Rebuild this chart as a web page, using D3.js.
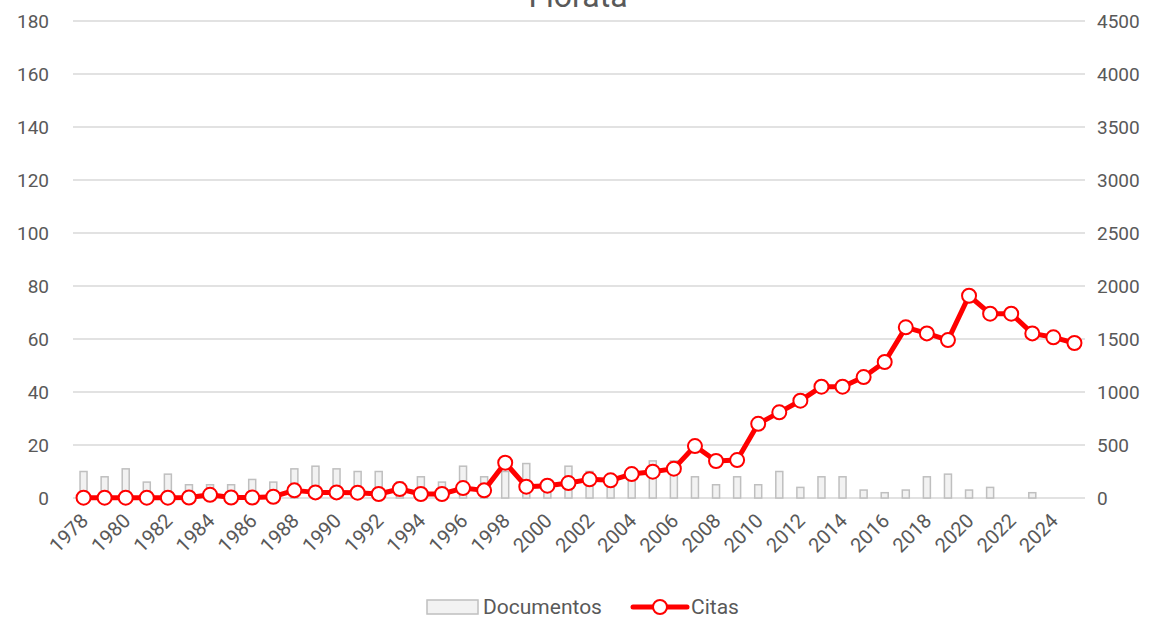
<!DOCTYPE html>
<html>
<head>
<meta charset="utf-8">
<script src="https://cdn.jsdelivr.net/npm/d3@7"></script>
<style>
  body { margin: 0; background: #fff; }
  text { font-family: Roboto, "Open Sans", sans-serif; fill: #595959; }
</style>
</head>
<body>
<svg id="chart" width="1157" height="617"></svg>
<script>
// data
var years = d3.range(1978, 2026);
var documentos = [10, 8, 11, 6, 9, 5, 5, 5, 7, 6, 11, 12, 11, 10, 10, 6, 8, 6, 12, 8,
                  10, 13, 5, 12, 10, 7, 9, 14, 14, 8, 5, 8, 5, 10, 4, 8, 8, 3, 2, 3,
                  8, 9, 3, 4, 0, 2, 0, 0];
var citas = [3, 3, 3, 3, 3, 5, 30, 5, 5, 12, 72, 53, 53, 50, 38, 85, 38, 38, 94, 72,
             333, 107, 116, 141, 176, 167, 226, 248, 277, 490, 349, 358, 700, 808, 918, 1050, 1050, 1141, 1283, 1610,
             1553, 1490, 1908, 1739, 1739, 1553, 1516, 1462];
var leftTicks = [0, 20, 40, 60, 80, 100, 120, 140, 160, 180];
var rightTicks = [0, 500, 1000, 1500, 2000, 2500, 3000, 3500, 4000, 4500];

var svg = d3.select("#chart"),
    plotLeft = 73, plotRight = 1085, plotTop = 21, plotBottom = 498;

var x = d3.scaleBand()
    .domain(years)
    .range([plotLeft, plotRight]);

var yL = d3.scaleLinear().domain([0, 180]).range([plotBottom, plotTop]);
var yR = d3.scaleLinear().domain([0, 4500]).range([plotBottom, plotTop]);

function cx(yr) { return x(yr) + x.bandwidth() / 2; }

// title, mostly cut off at the top edge
svg.append("text")
    .attr("x", 578)
    .attr("y", 7)
    .attr("text-anchor", "middle")
    .style("font-size", "32px")
    .text("Florata");

// grid
svg.append("g").selectAll("line")
  .data(leftTicks)
  .enter().append("line")
    .attr("x1", plotLeft).attr("x2", plotRight)
    .attr("y1", function(d) { return yL(d); })
    .attr("y2", function(d) { return yL(d); })
    .style("stroke", "#d9d9d9")
    .style("stroke-width", 1.5);

// left axis labels
svg.append("g").selectAll("text")
  .data(leftTicks)
  .enter().append("text")
    .attr("x", 49)
    .attr("y", function(d) { return yL(d); })
    .attr("dy", "0.35em")
    .attr("text-anchor", "end")
    .style("font-size", "19px")
    .text(function(d) { return d; });

// right axis labels
svg.append("g").selectAll("text")
  .data(rightTicks)
  .enter().append("text")
    .attr("x", 1097)
    .attr("y", function(d) { return yR(d); })
    .attr("dy", "0.35em")
    .style("font-size", "19px")
    .text(function(d) { return d; });

// x labels, every other year
svg.append("g").selectAll("text")
  .data(years.filter(function(d) { return (d - 1978) % 2 === 0; }))
  .enter().append("text")
    .attr("transform", function(d) {
      return "translate(" + (cx(d) + 1) + "," + 517 + ") rotate(-45)";
    })
    .attr("text-anchor", "end")
    .attr("dy", "0.35em")
    .style("font-size", "20px")
    .text(function(d) { return d; });

// bars
var barW = 7;
svg.append("g").selectAll("rect")
  .data(years.map(function(yr, i) { return {year: yr, v: documentos[i]}; }).filter(function(d) { return d.v > 0; }))
  .enter().append("rect")
    .attr("x", function(d) { return cx(d.year) - barW / 2; })
    .attr("y", function(d) { return yL(d.v); })
    .attr("width", barW)
    .attr("height", function(d) { return plotBottom - yL(d.v); })
    .style("fill", "#f2f2f2")
    .style("stroke", "#bfbfbf")
    .style("stroke-width", 1.5);

// citas line
var pts = years.map(function(yr, i) { return {year: yr, v: citas[i]}; });
var line = d3.line()
    .x(function(d) { return cx(d.year); })
    .y(function(d) { return yR(d.v); });

svg.append("path")
    .datum(pts)
    .attr("d", line)
    .style("fill", "none")
    .style("stroke", "#ff0000")
    .style("stroke-width", 5)
    .style("stroke-linejoin", "round");

svg.append("g").selectAll("circle")
  .data(pts)
  .enter().append("circle")
    .attr("cx", function(d) { return cx(d.year); })
    .attr("cy", function(d) { return yR(d.v); })
    .attr("r", 7)
    .style("fill", "#fff")
    .style("stroke", "#ff0000")
    .style("stroke-width", 2);

// legend
var lg = svg.append("g");
lg.append("rect")
    .attr("x", 427).attr("y", 600)
    .attr("width", 51).attr("height", 14)
    .style("fill", "#f2f2f2")
    .style("stroke", "#bfbfbf")
    .style("stroke-width", 1.5);
lg.append("text")
    .attr("x", 483).attr("y", 607)
    .attr("dy", "0.35em")
    .style("font-size", "21px")
    .text("Documentos");
lg.append("line")
    .attr("x1", 633).attr("x2", 687)
    .attr("y1", 607).attr("y2", 607)
    .style("stroke", "#ff0000")
    .style("stroke-width", 5)
    .style("stroke-linecap", "round");
lg.append("circle")
    .attr("cx", 660).attr("cy", 607).attr("r", 7)
    .style("fill", "#fff")
    .style("stroke", "#ff0000")
    .style("stroke-width", 2);
lg.append("text")
    .attr("x", 691).attr("y", 607)
    .attr("dy", "0.35em")
    .style("font-size", "21px")
    .text("Citas");
</script>
</body>
</html>
